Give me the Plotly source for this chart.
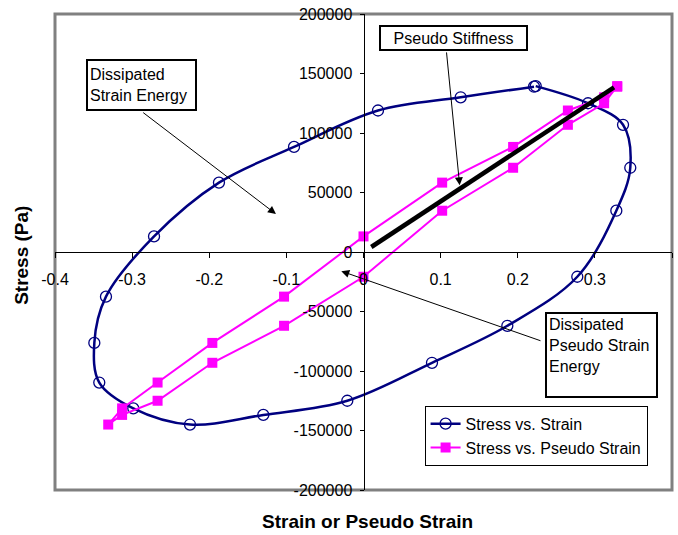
import plotly.graph_objects as go

# ---- data ----
stress = [139400, 125000, 106900, 70800, 34700, -20800, -62000, -93100, -125000,
          -136900, -145000, -131400, -109700, -76400, -37500, 13100, 58300, 88300,
          118900, 130000, 138900]
strain = [0.2233, 0.2911, 0.3365, 0.3459, 0.3278, 0.2772, 0.1865, 0.0888, -0.0210,
          -0.1299, -0.2250, -0.2985, -0.3426, -0.3490, -0.3339, -0.2716, -0.1874,
          -0.0901, 0.0188, 0.1260, 0.2211]
pseudo_strain = [0.329, 0.312, 0.265, 0.194, 0.102, 0.0, -0.103, -0.196, -0.267,
                 -0.313, -0.331, -0.313, -0.267, -0.196, -0.103, 0.0, 0.102, 0.194,
                 0.265, 0.312, 0.329]
stiffness_x = [0.0101, 0.3248]
stiffness_y = [4200, 138300]

x_ticks = [-0.4, -0.3, -0.2, -0.1, 0.0, 0.1, 0.2, 0.3, 0.4]
x_tick_labels = ["-0.4", "-0.3", "-0.2", "-0.1", "0", "0.1", "0.2", "0.3", "0.4"]
y_ticks = [-200000, -150000, -100000, -50000, 0, 50000, 100000, 150000, 200000]
y_tick_labels = ["-200000", "-150000", "-100000", "-50000", "0", "50000", "100000",
                 "150000", "200000"]

FONT = "Arial, Liberation Sans, sans-serif"
NAVY = "#000080"
MAGENTA = "#FF00FF"

fig = go.Figure()
fig.add_trace(go.Scatter(
    x=strain, y=stress, name="Stress vs. Strain", mode="lines+markers",
    line=dict(color=NAVY, width=2.5, shape="spline", smoothing=1.0),
    marker=dict(symbol="circle-open", size=11, color=NAVY, line=dict(width=1.3, color=NAVY)),
))
fig.add_trace(go.Scatter(
    x=pseudo_strain, y=stress, name="Stress vs. Pseudo Strain", mode="lines+markers",
    line=dict(color=MAGENTA, width=2),
    marker=dict(symbol="square", size=10, color=MAGENTA),
))
fig.add_trace(go.Scatter(
    x=stiffness_x, y=stiffness_y, mode="lines", showlegend=False,
    line=dict(color="black", width=4.5), hoverinfo="skip",
))

annotations = []
# axis titles
annotations.append(dict(text="<b>Strain or Pseudo Strain</b>", xref="paper", yref="paper",
                        x=0.5057, y=-0.066, xanchor="center", yanchor="middle",
                        showarrow=False, font=dict(size=19, family=FONT, color="black")))
annotations.append(dict(text="<b>Stress (Pa)</b>", xref="paper", yref="paper",
                        x=-0.0535, y=0.494, xanchor="center", yanchor="middle",
                        textangle=-90, showarrow=False,
                        font=dict(size=19, family=FONT, color="black")))
# text boxes
box_font = dict(size=16, family=FONT, color="black")
annotations.append(dict(text="Dissipated<br>Strain Energy", xref="x", yref="y",
                        x=-0.3598, y=162500, xanchor="left", yanchor="top",
                        showarrow=False, align="left", valign="middle",
                        width=103, height=44, borderpad=2, borderwidth=2,
                        bordercolor="black", bgcolor="white", font=box_font))
annotations.append(dict(text="Pseudo Stiffness", xref="x", yref="y",
                        x=0.0197, y=190800, xanchor="left", yanchor="top",
                        showarrow=False, align="center", valign="middle",
                        width=143, height=20, borderpad=1, borderwidth=2,
                        bordercolor="black", bgcolor="white", font=box_font))
annotations.append(dict(text="Dissipated<br>Pseudo Strain<br>Energy", xref="x", yref="y",
                        x=0.2357, y=-50000, xanchor="left", yanchor="top",
                        showarrow=False, align="left", valign="top",
                        width=105, height=78, borderpad=2, borderwidth=2,
                        bordercolor="black", bgcolor="white", font=box_font))
# arrows (tail -> head)
arrows = [
    ((-0.2876, 118100), (-0.1135, 31900)),
    ((0.1074, 169400), (0.1247, 56100)),
    ((0.2314, -75000), (-0.0288, -16100)),
]
for (tx, ty), (hx, hy) in arrows:
    annotations.append(dict(text=" ", xref="x", yref="y", axref="x", ayref="y",
                            x=hx, y=hy, ax=tx, ay=ty, showarrow=True,
                            arrowhead=2, arrowsize=1.6, arrowwidth=1,
                            arrowcolor="black", standoff=0, startstandoff=0,
                            font=dict(size=1)))

fig.update_layout(
    width=678, height=535,
    margin=dict(l=55, r=6, t=10, b=45),
    paper_bgcolor="white", plot_bgcolor="white",
    font=dict(family=FONT, size=16, color="black"),
    showlegend=True,
    legend=dict(x=0.599, y=0.177, xanchor="left", yanchor="top",
                bordercolor="black", borderwidth=1, bgcolor="white",
                font=dict(size=16, family=FONT, color="black")),
    xaxis=dict(range=[-0.4, 0.4], anchor="free", position=0.5,
               tickvals=x_ticks, ticktext=x_tick_labels,
               showline=True, linecolor="black", linewidth=1,
               ticks="outside", ticklen=5, tickcolor="black", tickwidth=1,
               ticklabelstandoff=8, showgrid=False, zeroline=False),
    yaxis=dict(range=[-200000, 200000], anchor="free", position=0.5,
               tickvals=y_ticks, ticktext=y_tick_labels,
               showline=True, linecolor="black", linewidth=1,
               ticks="outside", ticklen=4, tickcolor="black", tickwidth=1,
               ticklabelstandoff=4, showgrid=False, zeroline=False),
    shapes=[dict(type="rect", xref="paper", yref="paper", x0=0, y0=0, x1=1, y1=1,
                 line=dict(color="#808080", width=3), layer="below")],
    annotations=annotations,
)

fig.write_html("out.html")
